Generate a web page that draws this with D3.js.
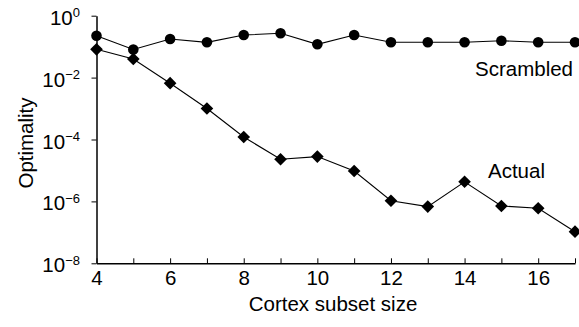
<!DOCTYPE html>
<html>
<head>
<meta charset="utf-8">
<script src="https://cdn.jsdelivr.net/npm/d3@7"></script>
<style>
  body { margin: 0; background: #fff; }
  svg { font-family: "Liberation Sans", Arial, Helvetica, sans-serif; }
</style>
</head>
<body>
<script>
// cortex subset sizes
var sizes = [4, 5, 6, 7, 8, 9, 10, 11, 12, 13, 14, 15, 16, 17];
// optimality of the scrambled network
var scrambled = [0.226, 0.081, 0.177, 0.138, 0.238, 0.27, 0.119, 0.238, 0.138, 0.138, 0.138, 0.155, 0.138, 0.138];
// optimality of the actual network
var actual = [0.082, 0.04, 0.0066, 1.0e-3, 1.2e-4, 2.3e-5, 2.8e-5, 9.6e-6, 1.05e-6, 6.8e-7, 4.3e-6, 7.1e-7, 6.0e-7, 1.05e-7];
var yTickExps = [0, -2, -4, -6, -8];
var xTickLabels = [4, 6, 8, 10, 12, 14, 16];

var width = 579, height = 327;
var FONT = 20.5;

var svg = d3.select('body').append('svg')
  .attr('width', width)
  .attr('height', height);

var x = d3.scaleLinear().domain([4, 17]).range([96.5, 575]);
var y = d3.scaleLog().domain([1e-8, 1]).range([263.3, 15.7]);

// x axis, ticks point inward
var xAxis = d3.axisBottom(x)
  .tickValues(sizes)
  .tickSizeInner(-5)
  .tickSizeOuter(0)
  .tickPadding(7)
  .tickFormat(function(d) { return xTickLabels.indexOf(d) >= 0 ? d : ''; });

var gx = svg.append('g')
  .attr('transform', 'translate(0,' + y(1e-8) + ')')
  .call(xAxis);
gx.select('.domain').attr('stroke', '#000').attr('stroke-width', 1.5);
gx.selectAll('.tick line').attr('stroke', '#000').attr('stroke-width', 1);
gx.selectAll('.tick text')
  .attr('font-size', FONT)
  .attr('font-family', '"Liberation Sans", Arial, sans-serif')
  .attr('fill', '#000');

// y axis, ticks point outward, labels drawn as powers of ten
var yAxis = d3.axisLeft(y)
  .tickValues(yTickExps.map(function(e) { return Math.pow(10, e); }))
  .tickSizeInner(5)
  .tickSizeOuter(0)
  .tickFormat('');

var gy = svg.append('g')
  .attr('transform', 'translate(' + x(4) + ',0)')
  .call(yAxis);
gy.select('.domain').attr('stroke', '#000').attr('stroke-width', 1.5);
gy.selectAll('.tick line').attr('stroke', '#000').attr('stroke-width', 1);

var labels = svg.append('g').attr('class', 'ylabels');
yTickExps.forEach(function(e) {
  var t = labels.append('text')
    .attr('x', 80)
    .attr('y', y(Math.pow(10, e)) + 9)
    .attr('text-anchor', 'end')
    .attr('fill', '#000')
    .attr('font-size', FONT);
  t.append('tspan').text('10');
  t.append('tspan')
    .attr('font-size', 13)
    .attr('dy', -7.5)
    .text(e === 0 ? '0' : '\u2212' + Math.abs(e));
});

// lines
var line = d3.line()
  .x(function(d) { return x(d[0]); })
  .y(function(d) { return y(d[1]); });

var scrData = sizes.map(function(s, i) { return [s, scrambled[i]]; });
var actData = sizes.map(function(s, i) { return [s, actual[i]]; });

svg.append('path')
  .datum(scrData)
  .attr('d', line)
  .attr('fill', 'none')
  .attr('stroke', '#000')
  .attr('stroke-width', 1.1);

svg.append('path')
  .datum(actData)
  .attr('d', line)
  .attr('fill', 'none')
  .attr('stroke', '#000')
  .attr('stroke-width', 1.1);

// markers
svg.selectAll('.scr')
  .data(scrData)
  .enter().append('circle')
  .attr('class', 'scr')
  .attr('cx', function(d) { return x(d[0]); })
  .attr('cy', function(d) { return y(d[1]); })
  .attr('r', 5.3)
  .attr('fill', '#000');

var diamond = d3.symbol().type(d3.symbolSquare).size(80);
svg.selectAll('.act')
  .data(actData)
  .enter().append('path')
  .attr('class', 'act')
  .attr('d', diamond)
  .attr('transform', function(d) {
    return 'translate(' + x(d[0]) + ',' + y(d[1]) + ') rotate(45)';
  })
  .attr('fill', '#000');

// series labels
svg.append('text')
  .attr('x', 475)
  .attr('y', 76)
  .attr('font-size', FONT)
  .attr('fill', '#000')
  .text('Scrambled');

svg.append('text')
  .attr('x', 488)
  .attr('y', 178)
  .attr('font-size', FONT)
  .attr('fill', '#000')
  .text('Actual');

// axis titles
svg.append('text')
  .attr('x', 333)
  .attr('y', 311)
  .attr('text-anchor', 'middle')
  .attr('font-size', FONT)
  .attr('fill', '#000')
  .text('Cortex subset size');

svg.append('text')
  .attr('transform', 'translate(33,143) rotate(-90)')
  .attr('text-anchor', 'middle')
  .attr('font-size', FONT)
  .attr('fill', '#000')
  .text('Optimality');
</script>
</body>
</html>
